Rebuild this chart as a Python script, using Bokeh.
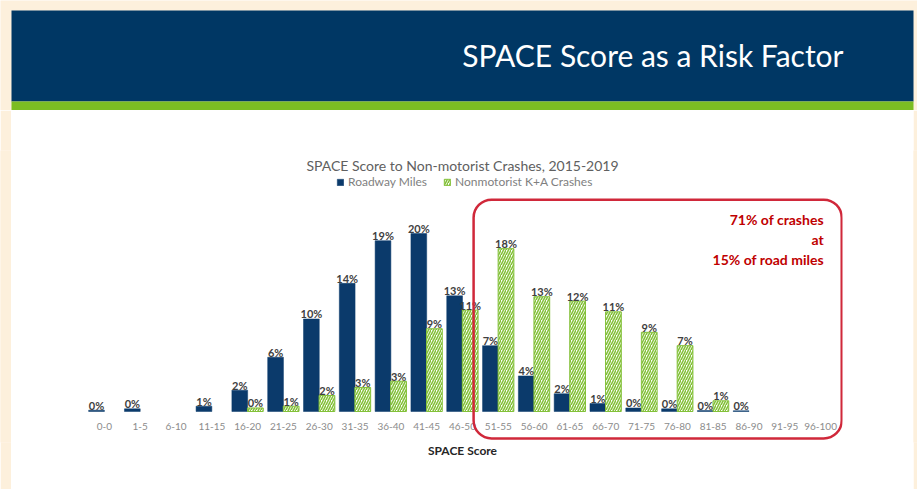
import math
from bokeh.plotting import figure
from bokeh.models import Range1d, FactorRange, ColumnDataSource, BoxAnnotation, Legend, LegendItem
from bokeh.transform import dodge
from bokeh.layouts import column, row
from bokeh.embed import file_html
from bokeh.resources import INLINE
from bokeh.core.properties import value

# ---------------- data ----------------
categories = ["0-0", "1-5", "6-10", "11-15", "16-20", "21-25", "26-30", "31-35", "36-40",
              "41-45", "46-50", "51-55", "56-60", "61-65", "66-70", "71-75", "76-80",
              "81-85", "86-90", "91-95", "96-100"]
roadway_miles = [0.15, 0.3, None, 0.6, 2.4, 6.1, 10.4, 14.4, 19.2, 20.0, 13.0, 7.4, 4.0,
                 2.0, 0.9, 0.4, 0.3, 0.1, 0.08, None, None]
nonmotorist_crashes = [None, None, None, None, 0.4, 0.6, 1.8, 2.7, 3.4, 9.3, 11.4, 18.3,
                       12.9, 12.4, 11.2, 8.9, 7.4, 1.2, None, None, None]
series_names = ["Roadway Miles", "Nonmotorist K+A Crashes"]
chart_title = "SPACE Score to Non-motorist Crashes, 2015-2019"
x_title = "SPACE Score"
page_title = "SPACE Score as a Risk Factor"
callout = ["71% of crashes", "at", "15% of road miles"]

# ---------------- styles ----------------
CREAM = "#fdf0dc"
NAVY = "#003764"
GREEN = "#7cbd23"
BAR_NAVY = "#0b3a6b"
HATCH_GREEN = "#84c13a"
RED = "#c00000"
FONT = "Lato"


def series_source(vals):
    xs, ys, labels = [], [], []
    for c, v in zip(categories, vals):
        if v is None:
            continue
        xs.append(c)
        ys.append(v)
        labels.append(f"{round(v)}%")
    return ColumnDataSource(dict(cat=xs, val=ys, label=labels))


# ---------------- header ----------------
hdr = figure(width=917, height=110, x_range=Range1d(0, 917), y_range=Range1d(110, 0),
             toolbar_location=None, output_backend="svg", min_border=0,
             x_axis_location=None, y_axis_location=None, outline_line_color=None,
             background_fill_color=CREAM, border_fill_color=CREAM)
hdr.grid.visible = False
hdr.quad(left=[11], right=[913], top=[10], bottom=[101], color=NAVY, line_color=None)
hdr.quad(left=[11], right=[913], top=[101], bottom=[110], color=GREEN, line_color=None)
hdr.text(x=[843], y=[54], text=[page_title], text_align="right", text_baseline="middle",
         text_font=value(FONT), text_font_size="30px", text_color="white")


def spacer(w):
    s = figure(width=w, height=379, toolbar_location=None, output_backend="svg", min_border=0,
               x_axis_location=None, y_axis_location=None, outline_line_color=None,
               background_fill_color=CREAM, border_fill_color=CREAM,
               x_range=Range1d(0, 1), y_range=Range1d(0, 1))
    s.grid.visible = False
    s.quad(left=[0], right=[1], top=[1], bottom=[0], color=CREAM, line_color=None)
    return s


# ---------------- chart ----------------
xr = FactorRange(factors=categories, range_padding=4 / 35.81, range_padding_units="absolute")
p = figure(width=902, height=379, x_range=xr, y_range=Range1d(-3.483, 29.33),
           toolbar_location=None, output_backend="svg",
           min_border_left=71, min_border_right=71, min_border_top=40, min_border_bottom=47,
           y_axis_location=None, outline_line_color=None,
           background_fill_color="white", border_fill_color="white")
p.grid.visible = False

src_r = series_source(roadway_miles)
src_c = series_source(nonmotorist_crashes)

r1 = p.vbar(x=dodge("cat", -0.22, range=p.x_range), top="val", width=0.44, source=src_r,
            fill_color=BAR_NAVY, line_color=BAR_NAVY, line_width=0.5)
r2 = p.vbar(x=dodge("cat", 0.215, range=p.x_range), top="val", width=0.44, source=src_c,
            fill_color="white", line_color=HATCH_GREEN, line_width=1,
            hatch_pattern="/", hatch_color=HATCH_GREEN, hatch_scale=5, hatch_weight=1.6)

lbl_kw = dict(text="label", text_align="center", text_baseline="alphabetic", y_offset=-5,
              text_font=value(FONT), text_font_size="11px", text_font_style="bold",
              text_color="#404040")
p.text(x=dodge("cat", -0.22, range=p.x_range), y="val", source=src_r, **lbl_kw)
p.text(x=dodge("cat", 0.215, range=p.x_range), y="val", source=src_c, **lbl_kw)

# chart title
p.text(x=[10.5], y=[27.6], text=[chart_title], text_align="center", text_baseline="middle",
       text_font=value(FONT), text_font_size="14px", text_color="#606060")

# callout box and text
p.add_layout(BoxAnnotation(left=10.81, right=21.09, top=23.8, bottom=-3.03,
                           fill_alpha=0, line_color="#d0283a", line_alpha=1, line_width=2.5,
                           border_radius=18))
p.text(x=[20.59, 20.59, 20.59], y=[21.57, 19.33, 17.08], text=callout, text_align="right",
       text_baseline="middle", text_font=value(FONT), text_font_size="14px",
       text_font_style="bold", text_color=RED)

legend = Legend(items=[LegendItem(label=series_names[0], renderers=[r1]),
                       LegendItem(label=series_names[1], renderers=[r2])],
                location=(254, 253), orientation="horizontal", padding=0, margin=0,
                spacing=16, glyph_width=8, glyph_height=8, label_standoff=4,
                label_text_font=FONT, label_text_font_size="12px",
                label_text_color="#7f7f7f", border_line_color=None,
                background_fill_alpha=0)
p.add_layout(legend)

ax = p.xaxis[0]
ax.axis_line_color = None
ax.major_tick_line_color = None
ax.minor_tick_line_color = None
ax.major_tick_out = 0
ax.major_tick_in = 0
ax.major_label_standoff = -20
ax.major_label_text_font = FONT
ax.major_label_text_font_size = "10px"
ax.major_label_text_color = "#8c8c8c"
ax.axis_label = x_title
ax.axis_label_standoff = 10
ax.axis_label_text_font = FONT
ax.axis_label_text_font_size = "12px"
ax.axis_label_text_font_style = "bold"
ax.axis_label_text_color = "#262626"

body = row(spacer(11), p, spacer(4), spacing=0)
page = column(hdr, body, spacing=0)

open("out.html", "w").write(file_html(page, INLINE))
